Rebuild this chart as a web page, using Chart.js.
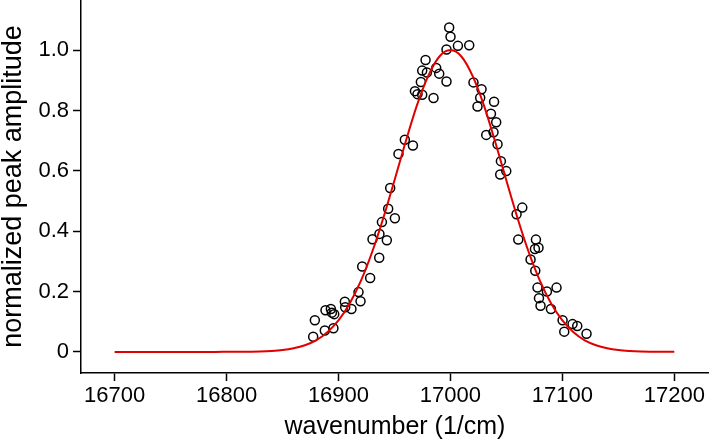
<!DOCTYPE html>
<html>
<head>
<meta charset="utf-8">
<script src="https://cdn.jsdelivr.net/npm/chart.js@4"></script>
<style>
  html, body { margin: 0; padding: 0; background: #fff; }
  #grafico { display: block; }
</style>
</head>
<body>
<canvas id="grafico" width="709" height="443"></canvas>
<script>
// measured points (wavenumber, normalized amplitude)
const pontosX = [
  16998.9, 17000.1, 16996.5, 17006.7, 17016.8, 16977.8, 16974.8, 16979.0, 16987.3, 16990.0,
  16973.6, 16996.5, 16968.3, 16970.6, 16974.8, 16984.9, 16959.3, 16966.5, 16953.6, 16946.2,
  16944.4, 16950.4, 16938.8, 16936.6, 16930.4, 16943.2, 16936.4, 16921.2, 16928.3, 16917.9,
  16919.7, 16905.7, 16906.0, 16911.6, 16888.4, 16893.2, 16894.1, 16896.2, 16878.9, 16887.8,
  16895.5, 16877.4, 17020.6, 17027.8, 17026.6, 17024.2, 17039.0, 17036.2, 17040.9, 17032.0,
  17038.5, 17042.1, 17045.1, 17049.9, 17044.5, 17064.2, 17059.1, 17060.6, 17076.4, 17075.5,
  17078.7, 17071.6, 17075.8, 17077.8, 17086.2, 17094.8, 17079.1, 17080.5, 17089.8, 17100.2,
  17109.1, 17113.3, 17101.7, 17121.6
];
const pontosY = [
  1.075, 1.044, 1.002, 1.014, 1.016, 0.967, 0.932, 0.926, 0.941, 0.922,
  0.894, 0.896, 0.864, 0.854, 0.852, 0.841, 0.703, 0.684, 0.656, 0.543,
  0.474, 0.443, 0.430, 0.391, 0.373, 0.370, 0.312, 0.283, 0.245, 0.198,
  0.168, 0.166, 0.148, 0.142, 0.138, 0.142, 0.130, 0.125, 0.105, 0.071,
  0.078, 0.050, 0.893, 0.870, 0.842, 0.813, 0.829, 0.789, 0.761, 0.719,
  0.728, 0.688, 0.632, 0.599, 0.588, 0.478, 0.456, 0.372, 0.372, 0.341,
  0.345, 0.306, 0.269, 0.213, 0.200, 0.213, 0.178, 0.153, 0.142, 0.105,
  0.092, 0.086, 0.067, 0.060
];

// fitted curve, read every 10 1/cm
const curvaX = [
  16700, 16710, 16720, 16730, 16740, 16750, 16760, 16770, 16780, 16790,
  16800, 16810, 16820, 16830, 16840, 16850, 16860, 16870, 16880, 16890,
  16900, 16910, 16920, 16930, 16940, 16950, 16960, 16970, 16980, 16990,
  17000, 17010, 17020, 17030, 17040, 17050, 17060, 17070, 17080, 17090,
  17100, 17110, 17120, 17130, 17140, 17150, 17160, 17170, 17180, 17190,
  17200
];
const curvaY = [
  0, 0, 0, 0, 0, 0, 0, 0, 0, 0,
  0.0001, 0.0003, 0.0007, 0.0014, 0.003, 0.006, 0.012, 0.022, 0.038, 0.065,
  0.104, 0.160, 0.235, 0.330, 0.443, 0.568, 0.696, 0.816, 0.913, 0.978,
  1.000, 0.978, 0.913, 0.816, 0.696, 0.568, 0.443, 0.330, 0.235, 0.160,
  0.104, 0.065, 0.038, 0.022, 0.012, 0.006, 0.003, 0.0014, 0.0007, 0.0003,
  0.0001
];

const ticksX = [16700, 16800, 16900, 17000, 17100, 17200];
const ticksY = [0, 0.2, 0.4, 0.6, 0.8, 1.0];

const fonte = "'Liberation Sans', Arial, Helvetica, sans-serif";

// sem folga extra nas bordas: o eixo vai até o topo e até a direita
function semFolga(s) {
  s.paddingTop = 0;
  s.paddingBottom = 0;
  s.paddingLeft = 0;
  s.paddingRight = 0;
}

const ctx = document.getElementById('grafico');

new Chart(ctx, {
  type: 'scatter',
  data: {
    datasets: [
      {
        label: 'ajuste',
        data: curvaX.map((x, i) => ({ x: x, y: curvaY[i] })),
        showLine: true,
        borderColor: '#e00000',
        borderWidth: 2,
        pointRadius: 0,
        cubicInterpolationMode: 'monotone',
        order: 0
      },
      {
        label: 'medidas',
        data: pontosX.map((x, i) => ({ x: x, y: pontosY[i] })),
        showLine: false,
        pointStyle: 'circle',
        pointRadius: 4.5,
        pointBorderWidth: 1.5,
        pointBorderColor: '#000',
        pointBackgroundColor: 'rgba(0,0,0,0)',
        order: 1
      }
    ]
  },
  options: {
    responsive: false,
    animation: false,
    devicePixelRatio: 1,
    layout: { padding: 0, autoPadding: false },
    plugins: { legend: { display: false }, tooltip: { enabled: false } },
    scales: {
      x: {
        type: 'linear',
        min: 16670,
        max: 17231,
        afterBuildTicks: s => { s.ticks = ticksX.map(v => ({ value: v })); },
        afterFit: s => { s.height = 70; semFolga(s); },
        grid: { drawOnChartArea: false, drawTicks: true, tickLength: 8, tickColor: '#000', tickWidth: 1.5 },
        border: { color: '#000', width: 1.5 },
        ticks: {
          color: '#000',
          font: { family: fonte, size: 22 },
          padding: 2,
          maxRotation: 0,
          callback: v => String(v)
        },
        title: {
          display: true,
          text: 'wavenumber (1/cm)',
          color: '#000',
          font: { family: fonte, size: 25, lineHeight: 1 },
          padding: { top: 0, bottom: 3 }
        }
      },
      y: {
        type: 'linear',
        min: -0.07,
        max: 1.166,
        afterBuildTicks: s => { s.ticks = ticksY.map(v => ({ value: v })); },
        afterFit: s => { s.width = 81; semFolga(s); },
        grid: { drawOnChartArea: false, drawTicks: true, tickLength: 8, tickColor: '#000', tickWidth: 1.5 },
        border: { color: '#000', width: 1.5 },
        ticks: {
          color: '#000',
          font: { family: fonte, size: 22 },
          padding: 4,
          callback: v => v === 0 ? '0' : v.toFixed(1)
        },
        title: {
          display: true,
          text: 'normalized peak amplitude',
          color: '#000',
          font: { family: fonte, size: 27, lineHeight: 1 },
          padding: { top: 0, bottom: 0 }
        }
      }
    }
  }
});
</script>
</body>
</html>
